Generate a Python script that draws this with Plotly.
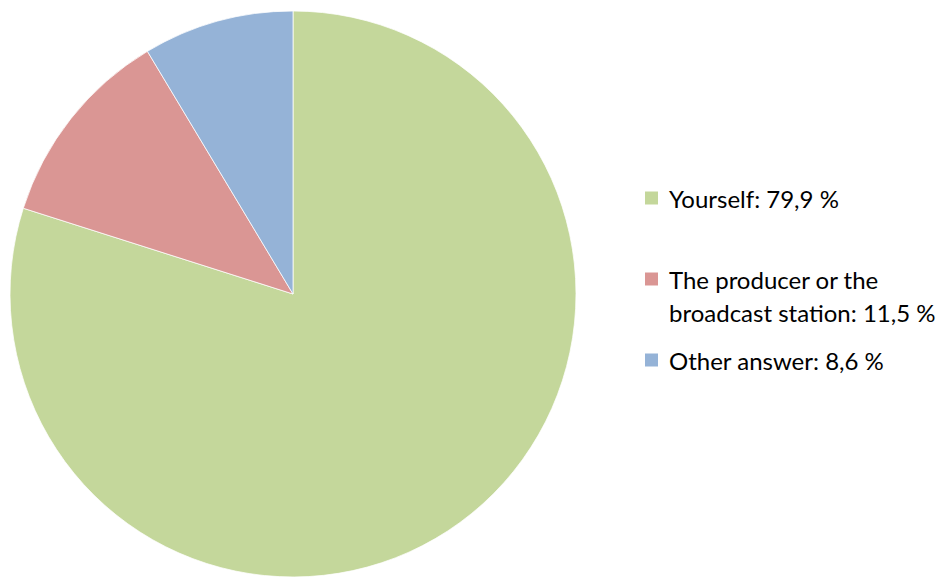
import plotly.graph_objects as go

labels = ["Yourself", "The producer or the<br>broadcast station", "Other answer"]
values = [79.9, 11.5, 8.6]
value_text = ["79,9 %", "11,5 %", "8,6 %"]
colors = ["#C4D79B", "#DA9694", "#95B3D7"]

W, H = 944, 577
OFF = 8  # browser body margin

fig = go.Figure(go.Pie(
    labels=labels, values=values, sort=False, direction="clockwise", rotation=0,
    marker=dict(colors=colors, line=dict(color="white", width=0.75)),
    textinfo="none", hoverinfo="label+percent", showlegend=False,
    domain=dict(x=[(10 - OFF) / W, (576 - OFF) / W],
                y=[(H - (577 - OFF)) / H, (H - (11 - OFF)) / H]),
))

# manual legend (positions in pixels from top of the page)
first_line_y = [198, 279, 360]
line_h = 33
font = dict(family="Lato, Open Sans, sans-serif", size=24, color="#000000")
for lab, vt, col, yc in zip(labels, value_text, colors, first_line_y):
    yc = yc - OFF
    fig.add_shape(type="rect", xref="paper", yref="paper",
                  x0=(645 - OFF) / W, x1=(658 - OFF) / W,
                  y0=(H - (yc - 6.5)) / H, y1=(H - (yc + 6.5)) / H,
                  fillcolor=col, line=dict(width=0))
    lines = (lab + ": " + vt).split("<br>")
    for i, ln in enumerate(lines):
        y = yc + i * line_h
        fig.add_annotation(x=(667 - OFF) / W, y=(H - y) / H, xref="paper", yref="paper",
                           text=ln, showarrow=False, xanchor="left", yanchor="middle",
                           font=font)

fig.update_layout(width=W, height=H, margin=dict(l=0, r=0, t=0, b=0),
                  paper_bgcolor="white", plot_bgcolor="white")
fig.write_html("out.html")
